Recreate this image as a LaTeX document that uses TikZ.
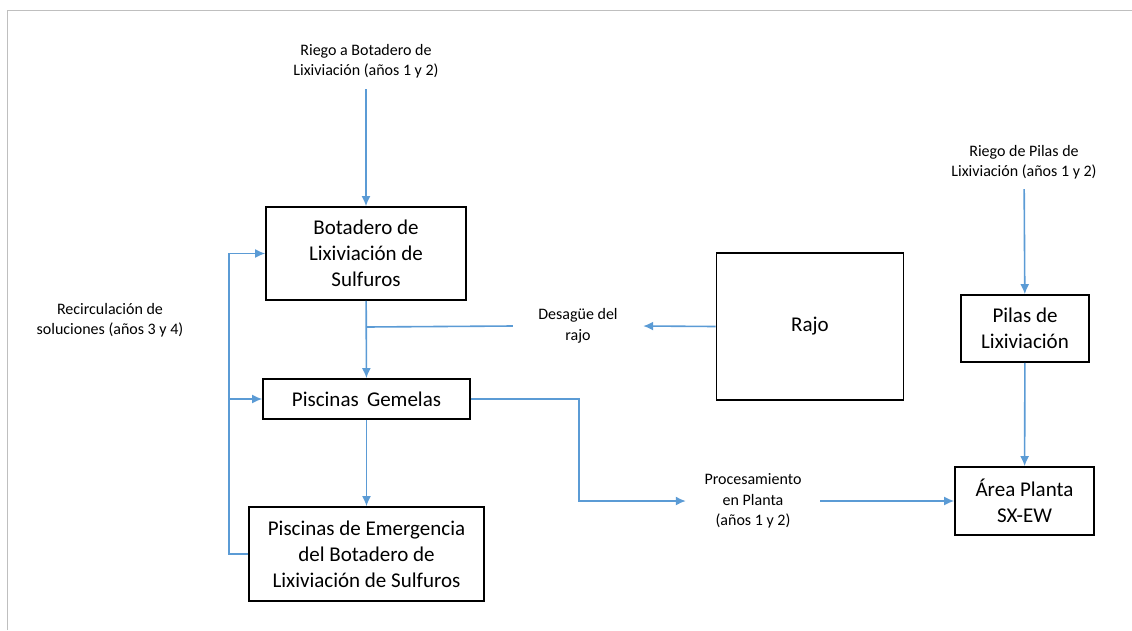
\documentclass[tikz,border=0pt]{standalone}
\usepackage{fontspec}
\setmainfont{Carlito}
\usetikzlibrary{arrows.meta}
\definecolor{flowblue}{RGB}{91,155,213}
\tikzset{
  box/.style={draw=black, line width=1.7pt, align=center, inner sep=0pt,
    font=\fontsize{21}{26}\selectfont},
  lbl/.style={align=center, inner sep=0pt, font=\fontsize{16}{20.5}\selectfont},
  pipe/.style={draw=flowblue, line width=1.6pt},
  flow/.style={pipe, -{Latex[length=10pt,width=9pt]}},
}
\begin{document}
\begin{tikzpicture}[x=1pt,y=-1pt]
    \useasboundingbox (0,0) rectangle (1132,630);
    % frame
    \draw[gray!50, line width=1pt] (7,630) -- (7,10) -- (1132,10);

    % boxes
    \node[box, minimum width=200, minimum height=93] (botadero) at (366,253.5) {Botadero de\\Lixiviación de\\Sulfuros};
    \node[box, minimum width=207, minimum height=40] (gemelas) at (366.5,399) {Piscinas\, Gemelas};
    \node[box, minimum width=235, minimum height=94] (emerg) at (366.5,554) {Piscinas de Emergencia\\del Botadero de\\Lixiviación de Sulfuros};
    \node[box, minimum width=187, minimum height=147] (rajo) at (810,326.5) {Rajo};
    \node[box, minimum width=128, minimum height=67] (pilas) at (1025,328.5) {Pilas de\\Lixiviación};
    \node[box, minimum width=139, minimum height=68] (area) at (1024.5,501) {Área Planta\\SX-EW};

    % labels
    \node[lbl, minimum height=56] (riegoB) at (366,61) {Riego a Botadero de\\Lixiviación (años 1 y 2)};
    \node[lbl, minimum height=54] (riegoP) at (1024,162) {Riego de Pilas de\\Lixiviación (años 1 y 2)};
    \node[lbl] (recirc) at (110,320) {Recirculación de\\soluciones (años 3 y 4)};
    \node[lbl, minimum width=130] (desague) at (578,326) {Desagüe del\\rajo};
    \node[lbl, minimum width=134] (proces) at (753,501) {Procesamiento\\en Planta\\(años 1 y 2)};

    % connectors
    \coordinate (jd) at (366,327);
    \coordinate (rc) at (229,399);
    \draw[flow] (riegoB) -- (botadero);
    \draw[flow] (botadero) -- (gemelas);
    \draw[pipe] (jd) -- (desague.west);
    \draw[flow] (rajo.west) -- (desague.east);
    \draw[flow] (gemelas) -- (emerg);
    \draw[flow] (gemelas.east) -- ++(108,0) |- (proces.west);
    \draw[flow] (proces.east) -- (area.west);
    \draw[flow] (riegoP) -- (pilas);
    \draw[flow] (pilas) -- (area);
    \draw[pipe] (emerg.west) -| (rc);
    \draw[flow] (rc) -- (gemelas.west);
    \draw[flow] (rc) |- (botadero.west);
\end{tikzpicture}
\end{document}
